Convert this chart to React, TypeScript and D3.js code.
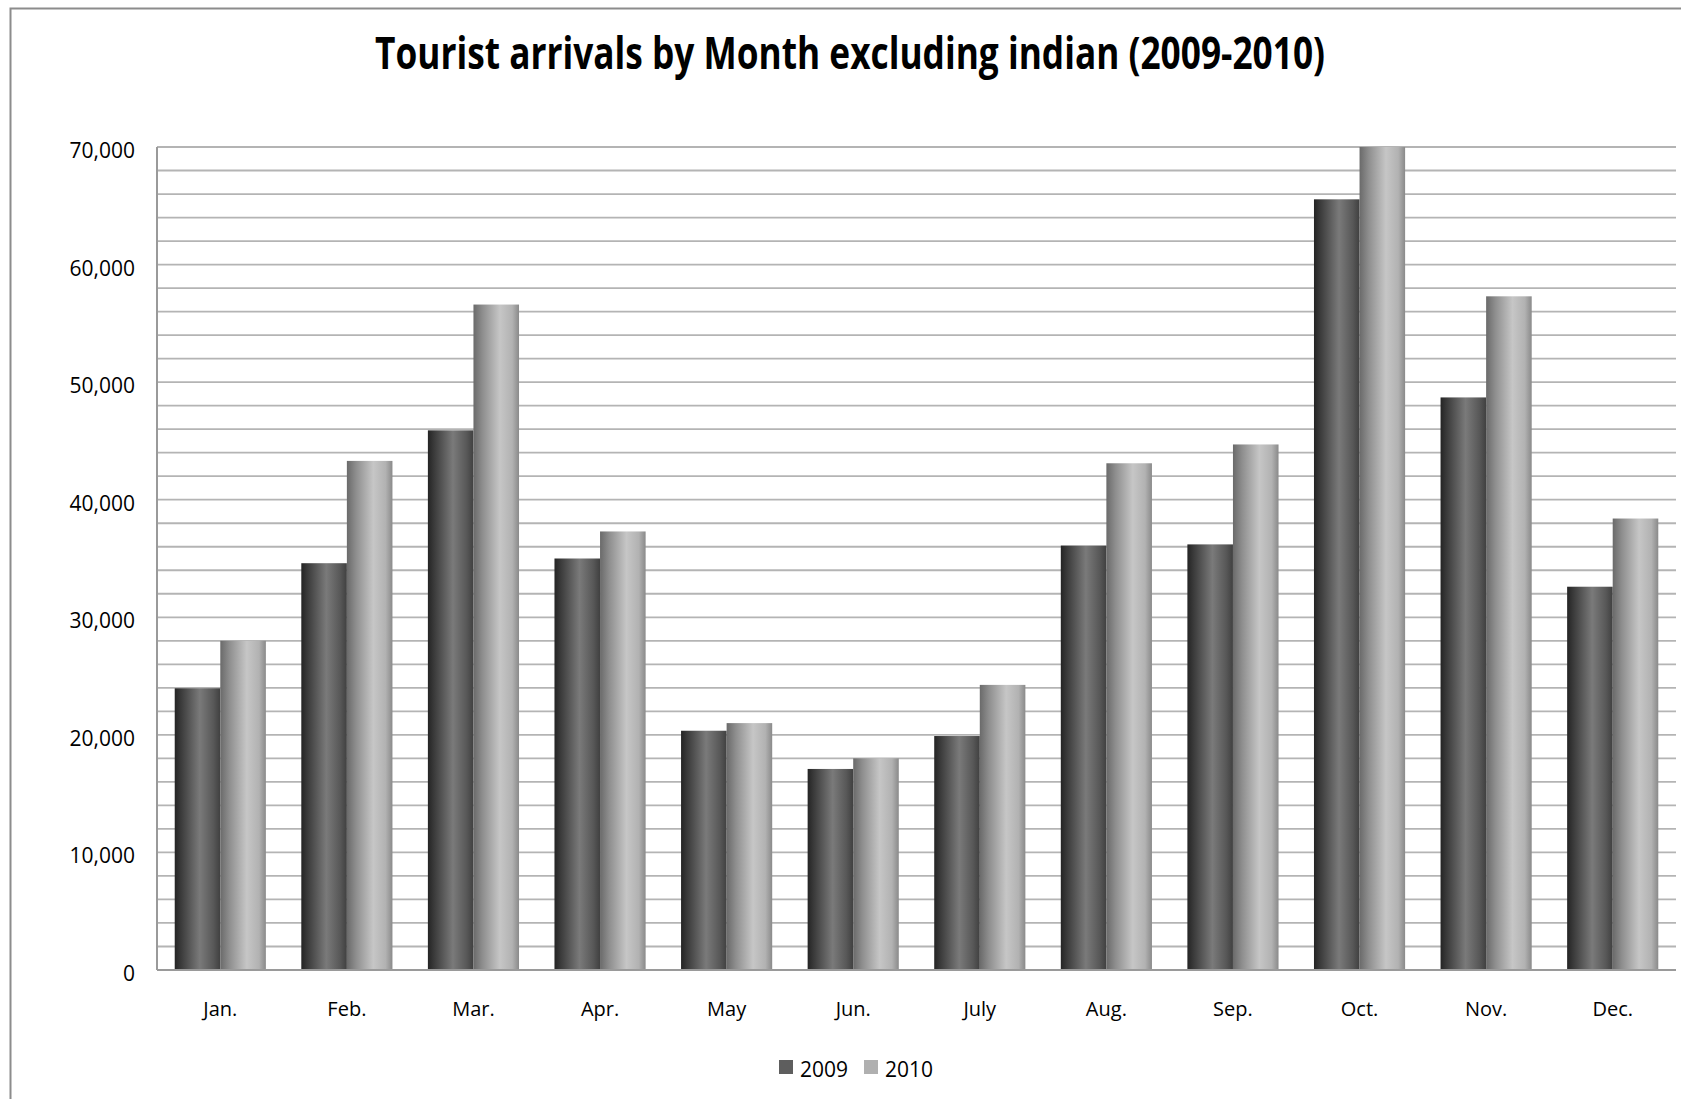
import React from "react";
import * as d3 from "d3";

const months = ["Jan.", "Feb.", "Mar.", "Apr.", "May", "Jun.", "July", "Aug.", "Sep.", "Oct.", "Nov.", "Dec."];
const series = ["2009", "2010"];
const values2009 = [23960, 34600, 45900, 35000, 20350, 17100, 19900, 36100, 36200, 65550, 48700, 32600];
const values2010 = [28000, 43300, 56600, 37300, 21000, 18000, 24250, 43100, 44700, 70000, 57300, 38400];
const yTicks = [0, 10000, 20000, 30000, 40000, 50000, 60000, 70000];
const title = "Tourist arrivals by Month excluding indian (2009-2010)";

const W = 1681;
const H = 1099;
const plot = { left: 157, right: 1676, top: 147, bottom: 970 };
const font = "'Open Sans', 'DejaVu Sans', sans-serif";

export default function App() {
  const x = d3.scaleBand<string>().domain(months).range([plot.left, plot.right]).paddingInner(0.28).paddingOuter(0.14);
  const xs = d3.scaleBand<string>().domain(series).range([0, x.bandwidth()]).padding(0);
  const y = d3.scaleLinear().domain([0, 70000]).range([plot.bottom, plot.top]);
  const minor = d3.range(2000, 70001, 2000);
  const fmt = d3.format(",");
  const data = [values2009, values2010];

  return (
    <svg width={W} height={H} style={{ position: "absolute", left: 0, top: 0, background: "#fff" }}>
      <defs>
        <linearGradient id="g2009" x1="0" x2="1" y1="0" y2="0">
          <stop offset="0%" stopColor="#242424" />
          <stop offset="12%" stopColor="#383838" />
          <stop offset="55%" stopColor="#7a7a7a" />
          <stop offset="85%" stopColor="#585858" />
          <stop offset="100%" stopColor="#404040" />
        </linearGradient>
        <linearGradient id="g2010" x1="0" x2="1" y1="0" y2="0">
          <stop offset="0%" stopColor="#6a6a6a" />
          <stop offset="20%" stopColor="#8e8e8e" />
          <stop offset="58%" stopColor="#c6c6c6" />
          <stop offset="85%" stopColor="#b2b2b2" />
          <stop offset="100%" stopColor="#8a8a8a" />
        </linearGradient>
        <clipPath id="plotclip">
          <rect x={plot.left} y={plot.top - 1} width={plot.right - plot.left} height={plot.bottom - plot.top + 1} />
        </clipPath>
      </defs>
      {/* frame */}
      <rect x={10.5} y={8.5} width={W + 20} height={H + 20} fill="#fff" stroke="#8c8c8c" strokeWidth={2} />
      {/* title */}
      <text x={850} y={69} textAnchor="middle" fontFamily={font} fontWeight={700} fontSize={44}
        textLength={950} lengthAdjust="spacingAndGlyphs" fill="#000">{title}</text>
      {/* gridlines */}
      {minor.map((v) => (
        <line key={v} x1={plot.left} x2={plot.right} y1={y(v)} y2={y(v)} stroke="#b4b4b4" strokeWidth={1.8} />
      ))}
      {/* y axis */}
      <line x1={plot.left} x2={plot.left} y1={plot.top} y2={plot.bottom} stroke="#9a9a9a" strokeWidth={2} />
      {yTicks.map((v) => (
        <text key={v} x={135} y={y(v) + 3} textAnchor="end" dominantBaseline="central" fontFamily={font} fontSize={21} fill="#000">
          {fmt(v)}
        </text>
      ))}
      {/* bars */}
      <g clipPath="url(#plotclip)">
        {months.map((m, i) =>
          series.map((s, j) => {
            const v = data[j][i];
            return (
              <rect key={m + s} x={(x(m) as number) + (xs(s) as number)} y={y(v)} width={xs.bandwidth()}
                height={y(0) - y(v)} fill={`url(#g${s})`} />
            );
          })
        )}
      </g>
      {/* x axis */}
      <line x1={plot.left} x2={plot.right} y1={plot.bottom} y2={plot.bottom} stroke="#9a9a9a" strokeWidth={2} />
      {months.map((m) => (
        <text key={m} x={(x(m) as number) + x.bandwidth() / 2} y={1016} textAnchor="middle" fontFamily={font} fontSize={20} fill="#000">
          {m}
        </text>
      ))}
      {/* legend */}
      {series.map((s, j) => (
        <g key={s} transform={`translate(${779 + j * 85},1060)`}>
          <rect x={0} y={0} width={14} height={14} fill={j === 0 ? "#5e5e5e" : "#b0b0b0"} />
          <text x={21} y={17} fontFamily={font} fontSize={21} fill="#000">{s}</text>
        </g>
      ))}
    </svg>
  );
}
